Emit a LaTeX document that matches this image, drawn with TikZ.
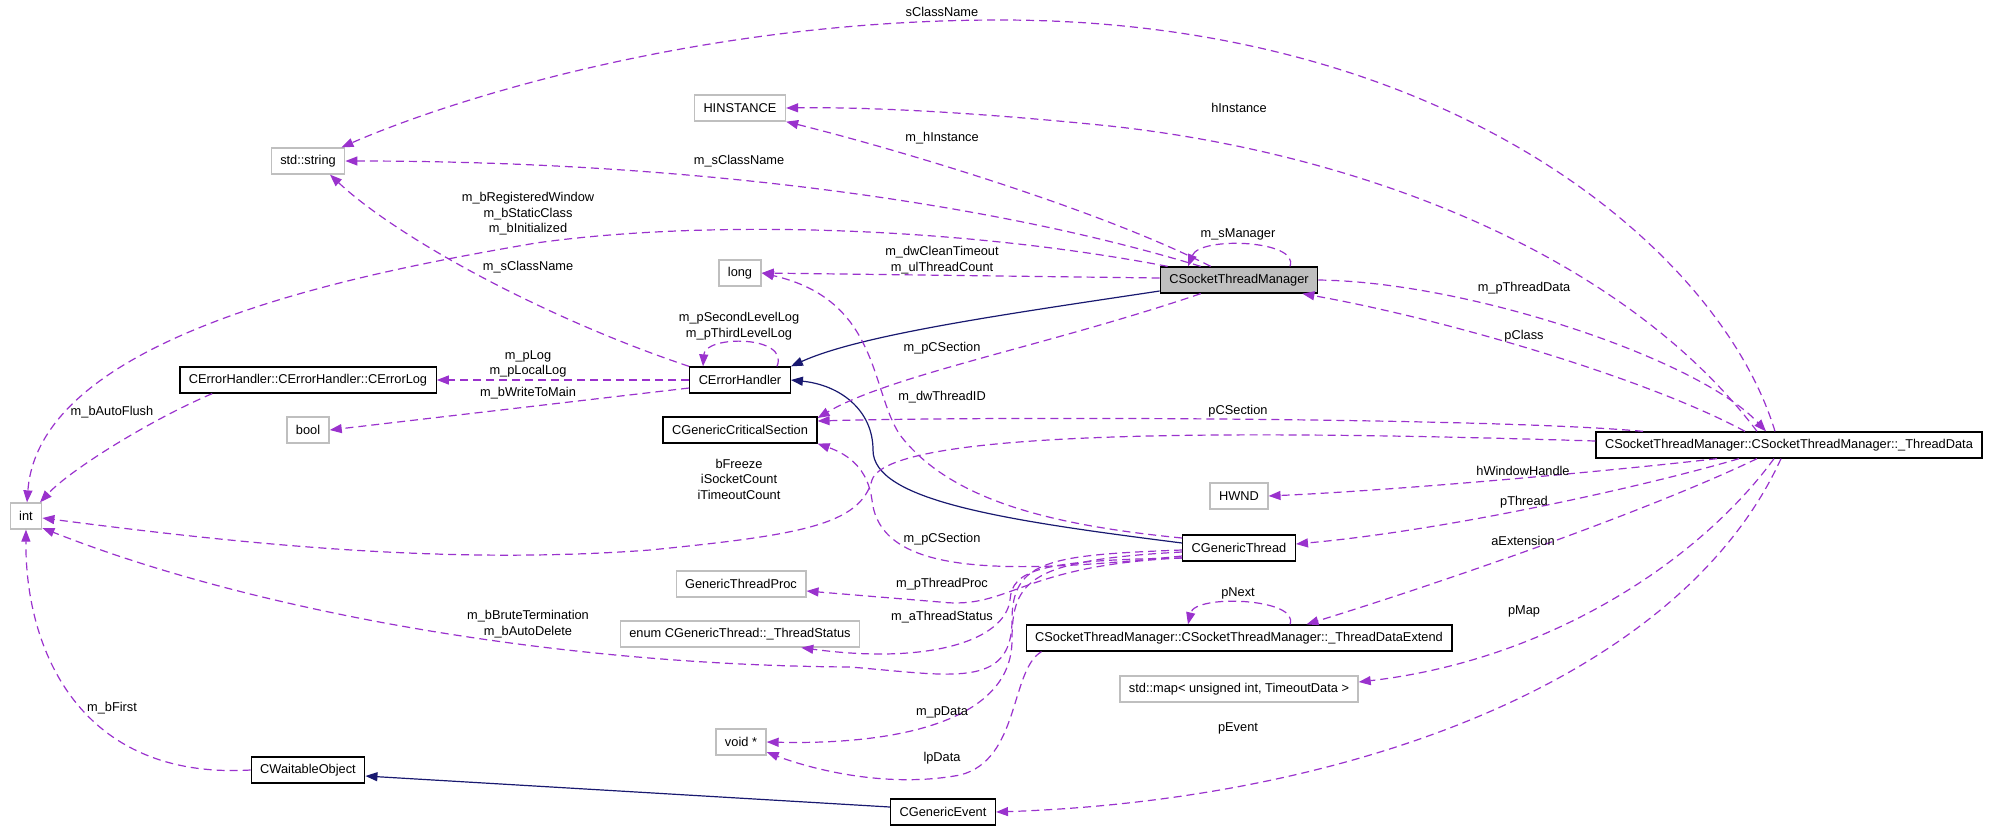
\documentclass[tikz,border=0pt]{standalone}
\usepackage{fontspec}
\setmainfont{Liberation Sans}
\usetikzlibrary{arrows.meta}
\definecolor{edgepurple}{HTML}{9A32CD}
\definecolor{inhblue}{HTML}{191970}
\definecolor{boxgray}{HTML}{BFBFBF}
\tikzset {>={Triangle[length=12pt,width=9pt]}}

\begin{document}
\begin{tikzpicture}[x=1pt,y=-1pt,font=\fontsize{12.8}{15.5}\selectfont,
  cls/.style={draw=black,line width=1.3pt,minimum height=26pt,inner xsep=9pt,inner ysep=0pt},
  prim/.style={cls,draw=boxgray},
  main/.style={cls,fill=boxgray},
  rel/.style={->,draw=edgepurple,line width=1.2pt,dash pattern=on 8pt off 5pt},
  inh/.style={->,draw=inhblue,line width=1.2pt},
  lbl/.style={align=center,inner sep=0pt}]
\useasboundingbox (0,0) rectangle (1989,831);

% classes and types
\node[main] (mgr) at (1239,280) {CSocketThreadManager};
\node[prim] (str) at (308,161) {std::string};
\node[prim] (hinst) at (740,108) {HINSTANCE};
\node[prim] (long) at (740,273) {long};
\node[cls] (err) at (740,380) {CErrorHandler};
\node[cls] (log) at (308,380) {CErrorHandler::CErrorHandler::CErrorLog};
\node[prim] (bool) at (308,430) {bool};
\node[prim] (int) at (26,516) {int};
\node[cls] (cs) at (740,430) {CGenericCriticalSection};
\node[cls] (data) at (1789,445) {CSocketThreadManager::CSocketThreadManager::\_ThreadData};
\node[prim] (hwnd) at (1239,496) {HWND};
\node[cls] (thr) at (1239,548) {CGenericThread};
\node[prim] (proc) at (741,584) {GenericThreadProc};
\node[prim] (status) at (740,634) {enum CGenericThread::\_ThreadStatus};
\node[cls] (ext) at (1239,638) {CSocketThreadManager::CSocketThreadManager::\_ThreadDataExtend};
\node[prim] (map) at (1239,689) {std::map< unsigned int, TimeoutData >};
\node[prim] (void) at (741,742) {void *};
\node[cls] (wait) at (308,770) {CWaitableObject};
\node[cls] (evt) at (943,812) {CGenericEvent};

% inheritance
\draw[inh] ([yshift=-11pt]mgr.west) .. controls (1000,315) and (860,335) .. (err.north east);
\draw[inh] ([yshift=5pt]thr.west) .. controls (1000,520) and (873,500) .. (873,450) .. controls (873,410) and (840,385) .. (err.east);
\draw[inh] ([yshift=5pt]evt.west) -- ([yshift=-6pt]wait.east);

% members of CSocketThreadManager
\draw[rel] ([xshift=41pt]mgr.north west) .. controls (1000,205) and (700,161) .. (str.east);
\draw[rel] ([xshift=51pt]mgr.north west) .. controls (1100,210) and (900,150) .. (hinst.south east);
\draw[rel] ([xshift=8pt]mgr.north west) .. controls (950,225) and (700,220) .. (536,243) .. controls (380,270) and (40,330) .. ([xshift=1pt]int.north);
\draw[rel] ([yshift=2pt]mgr.west) -- (long.east);
\draw[rel] ([xshift=51pt]mgr.north) .. controls (1300,240) and (1200,236) .. ([xshift=-51pt]mgr.north);
\draw[rel] (mgr.east) .. controls (1470,282) and (1700,360) .. ([xshift=-23pt]data.north);
\draw[rel] ([xshift=41pt]mgr.south west) .. controls (1050,345) and (890,375) .. ([yshift=12pt]cs.east);

% members of _ThreadData
\draw[rel] ([xshift=-44pt]data.north) .. controls (1650,380) and (1450,320) .. ([xshift=-16pt]mgr.south east);
\draw[rel] ([xshift=-14pt]data.north) .. controls (1720,250) and (1450,20) .. (1000,20) .. controls (700,20) and (450,100) .. ([xshift=-4pt]str.north east);
\draw[rel] ([xshift=-32pt]data.north) .. controls (1620,250) and (1350,150) .. (1100,125) .. controls (950,110) and (850,107) .. (hinst.east);
\draw[rel] ([yshift=4pt]data.west) .. controls (1300,432) and (890,425) .. (872,480) .. controls (860,525) and (800,535) .. (650,550) .. controls (450,565) and (250,545) .. ([yshift=-2pt]int.east);
\draw[rel] ([xshift=-146pt]data.north) .. controls (1500,418) and (1000,416) .. ([yshift=9pt]cs.east);
\draw[rel] ([xshift=-72pt]data.south) .. controls (1600,472) and (1400,490) .. (hwnd.east);
\draw[rel] ([xshift=-50pt]data.south) .. controls (1650,485) and (1450,530) .. ([yshift=4pt]thr.east);
\draw[rel] ([xshift=-32pt]data.south) .. controls (1650,510) and (1450,580) .. ([xshift=-146pt]ext.north east);
\draw[rel] ([xshift=-15pt]data.south) .. controls (1700,560) and (1550,660) .. ([yshift=7pt]map.east);
\draw[rel] ([xshift=-8pt]data.south) .. controls (1680,680) and (1350,800) .. (evt.east);

% members of CErrorHandler
\draw[rel] (err.north west) .. controls (550,320) and (400,240) .. ([xshift=22pt]str.south);
\draw[rel] ([xshift=37pt]err.north) .. controls (790,335) and (705,335) .. ([xshift=-37pt]err.north);
\draw[rel] (err.west) -- (log.east);
\draw[rel] ([yshift=-8pt]err.west) -- (bool.east);
\draw[rel] ([xshift=33pt]log.south west) .. controls (150,420) and (70,470) .. ([xshift=14pt]int.north);

% members of CGenericThread
\draw[rel] ([yshift=10pt]thr.west) .. controls (1050,525) and (950,500) .. (900,435) .. controls (870,390) and (880,300) .. (long.east);
\draw[rel] ([yshift=-8pt]thr.west) .. controls (1000,575) and (880,575) .. (872,500) .. controls (868,470) and (850,455) .. (cs.south east);
\draw[rel] ([yshift=-2pt]thr.west) .. controls (1050,555) and (1012,560) .. (1012,620) .. controls (1012,690) and (950,675) .. (850,667) .. controls (550,665) and (250,610) .. ([yshift=-12pt]int.east);
\draw[rel] ([yshift=-10pt]thr.west) .. controls (1020,565) and (1010,610) .. (940,602) .. controls (880,597) .. ([yshift=-7pt]proc.east);
\draw[rel] ([yshift=-10pt]thr.west) .. controls (1040,560) and (1012,570) .. (1010,600) .. controls (1005,640) and (930,665) .. ([xshift=-59pt]status.south east);
\draw[rel] ([yshift=-4pt]thr.west) .. controls (1030,560) and (1012,580) .. (1012,640) .. controls (1012,720) and (900,745) .. (void.east);

% members of _ThreadDataExtend and CWaitableObject
\draw[rel] ([xshift=16pt]ext.south west) .. controls (1010,670) and (1020,760) .. (960,775) .. controls (880,790) and (800,765) .. ([yshift=-10pt]void.east);
\draw[rel] ([xshift=51pt]ext.north) .. controls (1300,598) and (1195,594) .. ([xshift=-51pt]ext.north);
\draw[rel] (wait.west) .. controls (80,780) and (25,650) .. (int.south);

% edge labels
\node[lbl] (lsclass) at (942,12) {sClassName};
\node[lbl] (lhinst) at (1239,108) {hInstance};
\node[lbl] (lmhinst) at (942,138) {m\_hInstance};
\node[lbl] (lmsclass) at (739,161) {m\_sClassName};
\node[lbl] (lflags) at (528,214) {m\_bRegisteredWindow\\m\_bStaticClass\\m\_bInitialized};
\node[lbl] (lerrsclass) at (528,267) {m\_sClassName};
\node[lbl] (ltimeout) at (942,260) {m\_dwCleanTimeout\\m\_ulThreadCount};
\node[lbl] (lmanager) at (1238,234) {m\_sManager};
\node[lbl] (lthreaddata) at (1524,288) {m\_pThreadData};
\node[lbl] (lclass) at (1524,336) {pClass};
\node[lbl] (lerrlogs) at (739,326) {m\_pSecondLevelLog\\m\_pThirdLevelLog};
\node[lbl] (lmgrcs) at (942,348) {m\_pCSection};
\node[lbl] (llog) at (528,364) {m\_pLog\\m\_pLocalLog};
\node[lbl] (lwrite) at (528,393) {m\_bWriteToMain};
\node[lbl] (lthreadid) at (942,397) {m\_dwThreadID};
\node[lbl] (lcs) at (1238,411) {pCSection};
\node[lbl] (lflush) at (112,412) {m\_bAutoFlush};
\node[lbl] (lcounts) at (739,479) {bFreeze\\iSocketCount\\iTimeoutCount};
\node[lbl] (lhwnd) at (1523,471) {hWindowHandle};
\node[lbl] (lthread) at (1524,502) {pThread};
\node[lbl] (lthrcs) at (942,539) {m\_pCSection};
\node[lbl] (lext) at (1523,541) {aExtension};
\node[lbl] (lproc) at (942,584) {m\_pThreadProc};
\node[lbl] (lnext) at (1238,593) {pNext};
\node[lbl] (lstatus) at (942,617) {m\_aThreadStatus};
\node[lbl] (lterm) at (528,624) {m\_bBruteTermination\\m\_bAutoDelete};
\node[lbl] (lmap) at (1524,611) {pMap};
\node[lbl] (lfirst) at (112,708) {m\_bFirst};
\node[lbl] (lpdata) at (942,712) {m\_pData};
\node[lbl] (levent) at (1238,728) {pEvent};
\node[lbl] (llpdata) at (942,758) {lpData};
\end{tikzpicture}
\end{document}
